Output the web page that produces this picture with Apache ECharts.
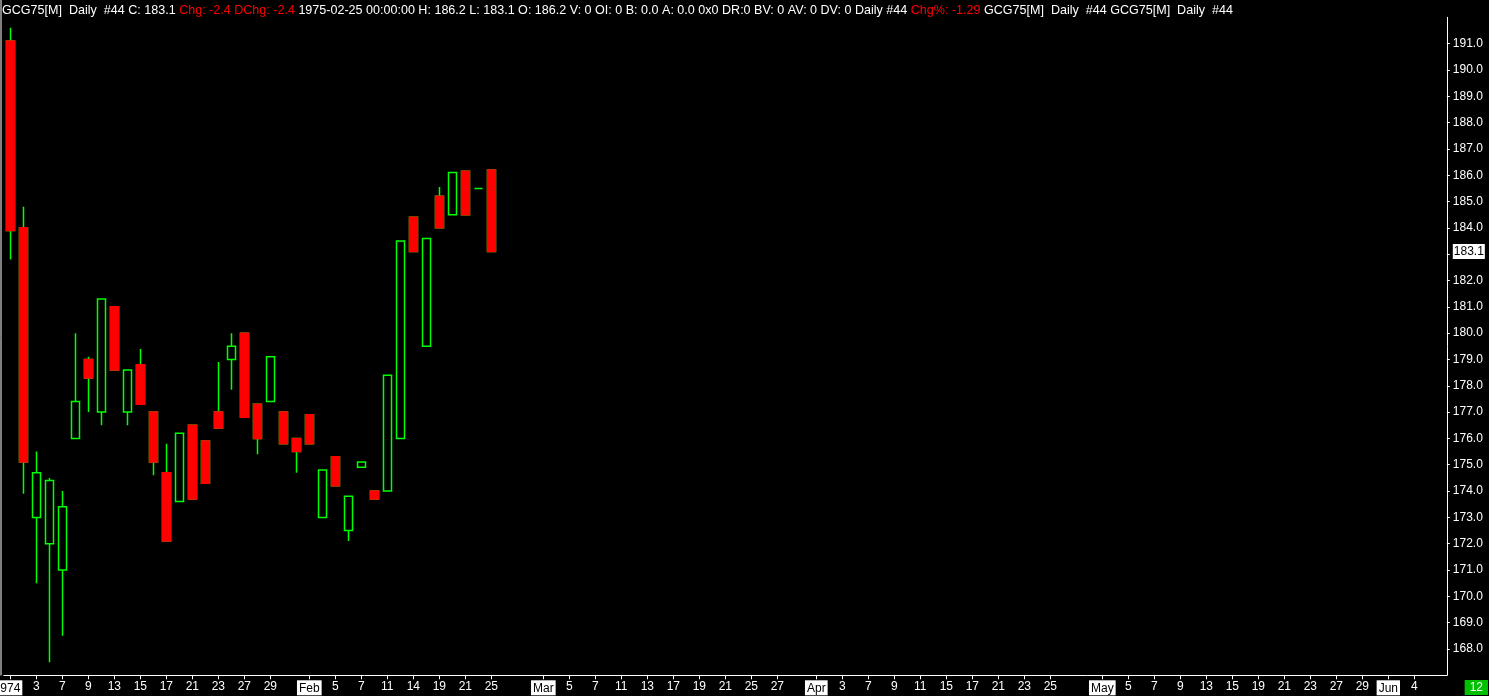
<!DOCTYPE html>
<html><head><meta charset="utf-8">
<script src="https://cdn.jsdelivr.net/npm/echarts@6/dist/echarts.min.js"></script>
<style>html,body{margin:0;padding:0;background:#000;}#c{width:1489px;height:696px;}</style>
</head><body><div id="c"></div>
<script>
// ---- data ----
const slotCount = 111; // trading-day slots on the x axis (38 with data)
const labelSlots = [0,2,4,6,8,10,12,14,16,18,20,23,25,27,29,31,33,35,37,41,43,45,47,49,51,53,55,57,59,62,64,66,68,70,72,74,76,78,80,84,86,88,90,92,94,96,98,100,102,104,106,108];
const labelTexts = ["974","3","7","9","13","15","17","21","23","27","29","Feb","5","7","11","14","19","21","25","Mar","5","7","11","13","17","19","21","25","27","Apr","3","7","9","11","15","17","21","23","25","May","5","7","9","13","15","19","21","23","27","29","Jun","4"];
const boxedLabels = ["974","Feb","Mar","Apr","May","Jun"];

const opens  = [191.1,184.0,173.0,172.0,171.0,176.0,179.0,177.0,181.0,177.0,178.8,177.0,174.7,173.6,176.5,175.9,177.0,179.0,180.0,177.3,177.4,177.0,176.0,176.9,173.0,175.3,172.5,174.9,174.0,174.0,176.0,184.4,179.5,185.2,184.5,186.15,185.5,186.2];
const closes = [183.9,175.1,174.7,174.4,173.4,177.4,178.3,181.3,178.6,178.6,177.3,175.1,172.1,176.2,173.7,174.3,176.4,179.5,176.8,176.0,179.1,175.8,175.5,175.8,174.8,174.2,173.8,175.1,173.7,178.4,183.5,183.1,183.6,184.0,186.1,184.5,185.5,183.1];
const lows   = [182.8,173.9,170.5,167.5,168.5,176.0,177.0,176.5,178.6,176.5,177.3,174.6,172.1,173.6,173.7,174.3,176.4,177.85,176.8,175.4,177.4,175.8,174.7,175.8,173.0,174.2,172.1,174.9,173.7,174.0,176.0,183.1,179.5,184.0,184.5,184.5,185.5,183.1];
const highs  = [191.6,184.8,175.5,174.5,174.0,180.0,179.1,181.3,181.0,178.6,179.4,177.0,175.8,176.2,176.5,175.9,178.9,180.0,180.0,177.3,179.1,177.0,176.0,176.9,174.8,175.3,173.8,175.1,174.0,178.4,183.5,184.4,183.6,185.55,186.1,186.15,185.5,186.2];
const lastClose = 183.1;
const yTickLabels = {min: 167, max: 192, step: 1};
const titleParts = [
  ["w","GCG75[M]  Daily  #44 C: 183.1 "],
  ["r","Chg: -2.4 DChg: -2.4"],
  ["w"," 1975-02-25 00:00:00 H: 186.2 L: 183.1 O: 186.2 V: 0 OI: 0 B: 0.0 A: 0.0 0x0 DR:0 BV: 0 AV: 0 DV: 0 Daily #44 "],
  ["r","Chg%: -1.29"],
  ["w"," GCG75[M]  Daily  #44 GCG75[M]  Daily  #44"]
];
const cornerLabel = "12";

// ---- build ----
const categories = Array.from({length: slotCount}, (_, i) => String(i));
const labelMap = {};
labelSlots.forEach((s, k) => { labelMap[s] = labelTexts[k]; });
const base = opens.map((o, i) => [o, closes[i], lows[i], highs[i]]);
const redBodies = opens.map((o, i) => o > closes[i] ? [o, closes[i], closes[i], o] : '-');
const FONT = 'Liberation Sans';
const GREEN = '#00ff00', RED = '#ff0000';
const TFS = 12.55;

const chart = echarts.init(document.getElementById('c'), null, {renderer: 'canvas'});
chart.setOption({
  backgroundColor: '#000',
  animation: false,
  title: {
    left: 2, top: 4, padding: 0,
    text: titleParts.map(p => '{' + p[0] + '|' + p[1] + '}').join(''),
    textStyle: {
      fontFamily: FONT, fontSize: TFS, fontWeight: 'normal',
      rich: {
        w: {color: '#fff', fontFamily: FONT, fontSize: TFS},
        r: {color: RED, fontFamily: FONT, fontSize: TFS}
      }
    }
  },
  grid: {left: 3.8, right: 42.2, top: 17.3, bottom: 20.7, containLabel: false, outerBoundsMode: 'none'},
  xAxis: {
    type: 'category', data: categories, boundaryGap: true,
    axisLine: {show: true, lineStyle: {color: '#fff', width: 1}},
    axisTick: {show: true, alignWithLabel: true, length: 4, lineStyle: {color: '#fff'},
      interval: (i) => labelMap[i] !== undefined},
    axisLabel: {
      interval: (i) => labelMap[i] !== undefined,
      color: '#fff', fontFamily: FONT, fontSize: 12, margin: 5,
      formatter: (v, i) => {
        const t = labelMap[i];
        if (t === undefined) return '';
        return boxedLabels.includes(t) ? '{m|' + t + '}' : t;
      },
      rich: {m: {backgroundColor: '#fff', color: '#000', fontFamily: FONT, fontSize: 12, padding: [2, 2, 1, 2]}}
    },
    splitLine: {show: false}
  },
  yAxis: {
    type: 'value', position: 'right', scale: true,
    min: yTickLabels.min, max: yTickLabels.max, interval: yTickLabels.step,
    axisLine: {show: true, lineStyle: {color: '#fff', width: 1}},
    axisTick: {show: true, inside: false, length: 3, lineStyle: {color: '#fff'}},
    axisLabel: {color: '#fff', fontFamily: FONT, fontSize: 12, margin: 6,
      showMinLabel: false, showMaxLabel: false,
      formatter: v => (Math.abs(v - lastClose) < 0.5 ? '' : v.toFixed(1))},
    axisPointer: {
      show: true, status: 'show', value: lastClose, snap: false, triggerTooltip: false,
      lineStyle: {opacity: 0, width: 0},
      label: {show: true, formatter: p => Number(p.value).toFixed(1), backgroundColor: '#fff', color: '#000',
        fontFamily: FONT, fontSize: 12, padding: [2, 1, 1, 1], margin: 6, borderRadius: 0, shadowBlur: 0}
    },
    splitLine: {show: false}
  },
  axisPointer: {triggerOn: 'none'},
  series: [
    {
      type: 'candlestick', data: base, barWidth: 8, silent: true,
      itemStyle: {color: '#000', color0: '#000', borderColor: GREEN, borderColor0: GREEN, borderWidth: 1.5}
    },
    {
      type: 'candlestick', data: redBodies, barWidth: 8, silent: true,
      itemStyle: {color: '#000', color0: RED, borderColor: '#000', borderColor0: RED, borderWidth: 1.5}
    }
  ],
  graphic: [
    {type: 'line', shape: {x1: 1, y1: 0, x2: 1, y2: 675.5}, style: {stroke: '#fff', lineWidth: 1}, silent: true},
    {type: 'text', right: 1, bottom: 1, silent: true,
      style: {text: cornerLabel, fill: '#fff', backgroundColor: '#00c000', padding: [2, 5, 1, 5], font: '12px ' + FONT}}
  ]
});
</script></body></html>
